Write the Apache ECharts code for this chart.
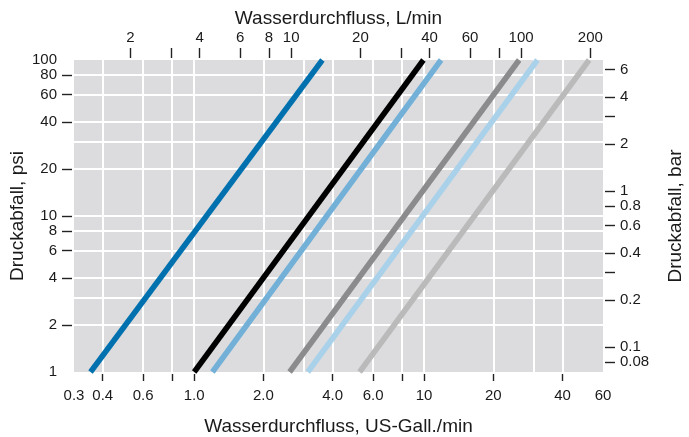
<!DOCTYPE html>
<html>
<head>
<meta charset="utf-8">
<script src="https://cdn.jsdelivr.net/npm/echarts@6/dist/echarts.min.js"></script>
<style>
  html, body { margin: 0; padding: 0; background: #fff; }
  #chart { width: 689px; height: 437px; }
</style>
</head>
<body>
<div id="chart"></div>
<script>
// flow (US gal/min) read at 1 psi and at 100 psi for each line
const pressurePsi = [1, 100];
const flowDarkBlue = [0.354, 3.61];
const flowBlack = [1.0, 9.93];
const flowMidBlue = [1.2, 11.85];
const flowGrey = [2.6, 25.9];
const flowLightBlue = [3.12, 31.1];
const flowLightGrey = [5.24, 52.2];

// axis ticks / labels / grid lines
const gpmTicks = [0.4, 0.6, 0.8, 1, 2, 4, 6, 8, 10, 20, 40];
const gpmLabels = [0.3, 0.4, 0.6, 1, 2, 4, 6, 10, 20, 40, 60];
const gpmGrid = [0.4, 0.6, 0.8, 1, 2, 3, 4, 6, 8, 10, 20, 30, 40];
const lpmTicks = [2, 3, 4, 6, 8, 10, 20, 30, 40, 60, 80, 100, 200];
const lpmLabels = [2, 4, 6, 8, 10, 20, 40, 60, 100, 200];
const psiTicks = [2, 4, 6, 8, 10, 20, 40, 60, 80];
const psiLabels = [1, 2, 4, 6, 8, 10, 20, 40, 60, 80, 100];
const psiGrid = [2, 3, 4, 6, 8, 10, 20, 30, 40, 60, 80];
const barTicks = [0.08, 0.1, 0.2, 0.3, 0.4, 0.6, 0.8, 1, 2, 3, 4, 6];
const barLabels = [0.08, 0.1, 0.2, 0.4, 0.6, 0.8, 1, 2, 4, 6];

const GAL = 3.78541;
const PSI_PER_BAR = 14.5038;
const gpmMin = 0.3, gpmMax = 60;
const psiMin = 1, psiMax = 100;

const font = 'Liberation Sans, Arial, sans-serif';
const textColor = '#1a1a1a';
const tickStyle = { color: '#222', width: 1.4 };
const labelSize = 15;
const nameSize = 19;

function pairs(flow) {
  return flow.map(function (f, i) { return [f, pressurePsi[i]]; });
}
function num(v) {
  return String(Number(v.toPrecision(3)));
}

const lines = [
  { name: 'a', color: '#0071ae', data: flowDarkBlue },
  { name: 'b', color: '#000000', data: flowBlack },
  { name: 'c', color: '#72b0d8', data: flowMidBlue },
  { name: 'd', color: '#8b8b8d', data: flowGrey },
  { name: 'e', color: '#a9d1ea', data: flowLightBlue },
  { name: 'f', color: '#bababb', data: flowLightGrey }
];

const chart = echarts.init(document.getElementById('chart'));
chart.setOption({
  animation: false,
  textStyle: { fontFamily: font },
  grid: {
    left: 74, right: 86, top: 60, bottom: 65,
    outerBoundsMode: 'none', containLabel: false,
    show: true, backgroundColor: '#dcdcde', borderWidth: 0
  },
  xAxis: [
    {
      type: 'log', position: 'bottom', min: gpmMin, max: gpmMax, offset: 2,
      name: 'Wasserdurchfluss, US-Gall./min', nameLocation: 'middle', nameGap: 43,
      nameMoveOverlap: false,
      nameTextStyle: { fontSize: nameSize, color: textColor, fontFamily: font },
      axisLine: { show: false },
      axisTick: { show: true, length: 7, lineStyle: tickStyle, customValues: gpmTicks },
      axisLabel: {
        fontSize: labelSize, color: textColor, margin: 14, customValues: gpmLabels,
        formatter: function (v) { return v < 10 ? v.toFixed(1) : String(Math.round(v)); }
      },
      splitLine: { show: false }
    },
    {
      type: 'log', position: 'top', min: gpmMin * GAL, max: gpmMax * GAL, offset: 2,
      name: 'Wasserdurchfluss, L/min', nameLocation: 'middle', nameGap: 30,
      nameMoveOverlap: false,
      nameTextStyle: { fontSize: nameSize, color: textColor, fontFamily: font },
      axisLine: { show: false },
      axisTick: { show: true, length: 10, lineStyle: tickStyle, customValues: lpmTicks },
      axisLabel: {
        fontSize: labelSize, color: textColor, margin: 13, customValues: lpmLabels,
        formatter: function (v) { return String(Math.round(v)); }
      },
      splitLine: { show: false }
    },
    {
      type: 'log', position: 'bottom', min: gpmMin, max: gpmMax,
      axisLine: { show: false },
      axisTick: { show: false, customValues: gpmGrid },
      axisLabel: { show: false },
      splitLine: { show: true, lineStyle: { color: '#ffffff', width: 2 } }
    }
  ],
  yAxis: [
    {
      type: 'log', position: 'left', min: psiMin, max: psiMax, offset: 2,
      name: 'Druckabfall, psi', nameLocation: 'middle', nameGap: 45,
      nameMoveOverlap: false,
      nameTextStyle: { fontSize: nameSize, color: textColor, fontFamily: font },
      axisLine: { show: false },
      axisTick: { show: true, length: 10, lineStyle: tickStyle, customValues: psiTicks },
      axisLabel: {
        fontSize: labelSize, color: textColor, margin: 15, customValues: psiLabels,
        formatter: function (v) { return String(Math.round(v)); }
      },
      splitLine: { show: false }
    },
    {
      type: 'log', position: 'right', min: psiMin / PSI_PER_BAR, max: psiMax / PSI_PER_BAR, offset: 2,
      name: 'Druckabfall, bar', nameLocation: 'middle', nameGap: 61, nameRotate: 90,
      nameMoveOverlap: false,
      nameTextStyle: { fontSize: nameSize, color: textColor, fontFamily: font },
      axisLine: { show: false },
      axisTick: { show: true, length: 10, lineStyle: tickStyle, customValues: barTicks },
      axisLabel: {
        fontSize: labelSize, color: textColor, margin: 15, customValues: barLabels,
        formatter: num
      },
      splitLine: { show: false }
    },
    {
      type: 'log', position: 'left', min: psiMin, max: psiMax,
      axisLine: { show: false },
      axisTick: { show: false, customValues: psiGrid },
      axisLabel: { show: false },
      splitLine: { show: true, lineStyle: { color: '#ffffff', width: 2 } }
    }
  ],
  series: lines.map(function (l) {
    return {
      name: l.name,
      type: 'line',
      xAxisIndex: 0,
      yAxisIndex: 0,
      data: pairs(l.data),
      showSymbol: false,
      symbol: 'none',
      lineStyle: { color: l.color, width: 5.5 },
      clip: true
    };
  })
});
</script>
</body>
</html>
